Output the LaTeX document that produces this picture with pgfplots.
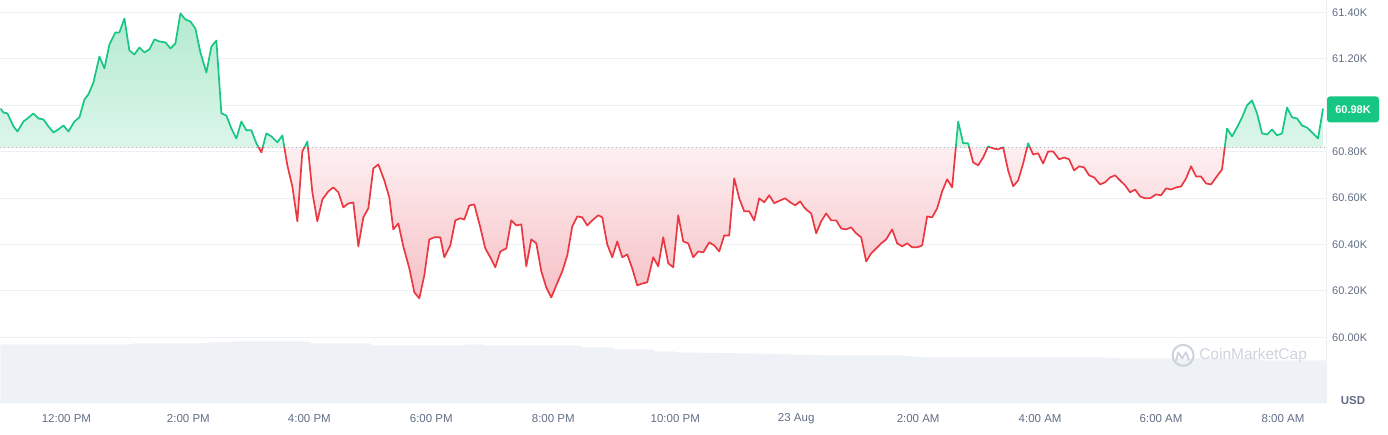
\documentclass[border=0pt]{standalone}
\usepackage{fontspec}
\setmainfont{Liberation Sans}
\usepackage{pgfplots}
\pgfplotsset{compat=1.18}
\usepackage{pgfplotstable}
\definecolor{cmcgreen}{HTML}{16C784}
\definecolor{cmcred}{HTML}{EA3943}
\definecolor{gridc}{HTML}{EEF1F4}
\definecolor{labc}{HTML}{616E85}
\definecolor{volc}{HTML}{EEF1F5}
\definecolor{dotc}{HTML}{A8B0BD}
\definecolor{wmc}{HTML}{CDD3DD}
\definecolor{gtop}{RGB}{180,234,208}
\definecolor{gbot}{RGB}{222,247,235}
\definecolor{rtop}{RGB}{253,237,239}
\definecolor{rbot}{RGB}{245,192,197}
\pgfplotstableread{
x y
0 60.986
3 60.969
7 60.965
13 60.909
17 60.887
23 60.930
27 60.943
33 60.965
38 60.943
43 60.939
48 60.909
53 60.883
58 60.896
63 60.913
68 60.887
74 60.930
79 60.948
84 61.025
88 61.047
93 61.098
99 61.210
104 61.159
109 61.262
115 61.314
119 61.314
124 61.374
129 61.236
134 61.219
139 61.249
144 61.228
149 61.241
154 61.284
159 61.275
165 61.271
170 61.245
175 61.266
180 61.396
185 61.370
190 61.361
195 61.331
200 61.228
206 61.141
211 61.253
216 61.279
221 60.965
226 60.956
231 60.900
236 60.857
241 60.930
246 60.892
251 60.892
256 60.836
261 60.797
266 60.879
271 60.866
277 60.840
282 60.870
287 60.741
292 60.650
297 60.500
302 60.801
307 60.844
312 60.625
317 60.500
322 60.594
328 60.629
333 60.646
338 60.625
343 60.560
348 60.577
353 60.581
358 60.392
363 60.517
368 60.556
373 60.728
378 60.745
384 60.676
389 60.603
393 60.465
398 60.491
403 60.392
409 60.297
414 60.194
419 60.168
424 60.267
429 60.422
434 60.431
440 60.431
444 60.345
450 60.396
455 60.504
460 60.513
464 60.508
469 60.568
474 60.573
480 60.474
485 60.383
490 60.345
495 60.302
500 60.370
506 60.383
511 60.504
516 60.482
521 60.487
526 60.306
531 60.422
536 60.405
541 60.285
546 60.215
551 60.172
556 60.224
562 60.284
567 60.353
572 60.478
577 60.521
582 60.517
587 60.482
592 60.504
598 60.526
602 60.517
607 60.400
612 60.345
617 60.413
622 60.345
627 60.357
632 60.297
637 60.224
642 60.232
647 60.237
653 60.345
658 60.306
663 60.431
668 60.319
673 60.302
678 60.526
683 60.413
688 60.405
693 60.345
698 60.370
703 60.366
709 60.409
714 60.396
719 60.370
724 60.439
729 60.439
734 60.685
739 60.599
744 60.543
749 60.543
754 60.504
759 60.599
764 60.582
769 60.612
774 60.578
780 60.590
785 60.599
790 60.582
795 60.569
800 60.586
804 60.560
807 60.547
811 60.534
816 60.448
821 60.500
826 60.534
831 60.504
836 60.504
841 60.469
846 60.465
851 60.474
856 60.448
861 60.431
866 60.327
871 60.362
876 60.383
881 60.405
886 60.422
892 60.465
897 60.405
902 60.392
907 60.405
912 60.388
917 60.388
922 60.396
927 60.521
932 60.517
937 60.556
942 60.629
947 60.681
952 60.646
958 60.930
963 60.836
968 60.836
973 60.754
978 60.741
983 60.775
988 60.823
993 60.814
998 60.810
1003 60.819
1008 60.719
1013 60.651
1018 60.676
1023 60.749
1028 60.836
1033 60.788
1038 60.793
1043 60.749
1048 60.801
1053 60.801
1059 60.767
1064 60.775
1069 60.767
1074 60.719
1079 60.737
1084 60.732
1089 60.698
1094 60.689
1100 60.659
1105 60.668
1110 60.689
1115 60.698
1120 60.676
1125 60.655
1130 60.625
1135 60.637
1140 60.607
1145 60.599
1150 60.599
1156 60.616
1161 60.612
1166 60.642
1171 60.637
1176 60.646
1181 60.650
1186 60.685
1191 60.737
1196 60.693
1201 60.693
1206 60.663
1211 60.659
1216 60.689
1222 60.724
1227 60.900
1232 60.866
1237 60.905
1242 60.948
1247 61.000
1252 61.021
1257 60.965
1262 60.879
1267 60.874
1272 60.896
1277 60.870
1282 60.879
1287 60.990
1292 60.948
1297 60.943
1302 60.913
1307 60.904
1312 60.883
1318 60.857
1323 60.986
}\price
\pgfplotstableread{
x y
0 59.970
130 59.970
134 59.974
205 59.974
210 59.978
232 59.978
234 59.983
308 59.983
312 59.974
370 59.974
372 59.965
464 59.965
466 59.970
482 59.970
484 59.965
580 59.965
582 59.957
612 59.957
614 59.948
652 59.948
654 59.939
674 59.939
676 59.935
745 59.931
834 59.922
900 59.922
923 59.914
1100 59.914
1124 59.909
1258 59.909
1260 59.901
1326 59.901
}\volume
\begin{document}
\begin{tikzpicture}
\begin{axis}[
  at={(0pt,31pt)}, anchor=south west,
  width=1326pt, height=403pt, scale only axis,
  xmin=0, xmax=1326, ymin=59.7156, ymax=61.4517,
  axis line style={draw=none},
  tick style={draw=none},
  ytick={60,60.2,60.4,60.6,60.8,61.2,61.4},
  yticklabels={60.00K,60.20K,60.40K,60.60K,60.80K,61.20K,61.40K},
  extra y ticks={61},
  extra y tick labels={},
  yticklabel pos=right,
  yticklabel style={anchor=west, inner sep=0pt, xshift=6pt, font=\fontsize{11}{12}\selectfont, text=labc},
  ymajorgrids, grid style={gridc, line width=0.9pt},
  xtick={66,188,309,431,553,675,796,918,1040,1161,1283},
  xticklabels={12:00 PM,2:00 PM,4:00 PM,6:00 PM,8:00 PM,10:00 PM,23 Aug,2:00 AM,4:00 AM,6:00 AM,8:00 AM},
  xticklabel style={anchor=center, inner sep=0pt, yshift=-15pt, font=\fontsize{11.5}{12}\selectfont, text=labc},
]
\addplot[draw=none, fill=volc] table {\volume} \closedcycle;
\begin{scope}
\clip (axis cs:-10,60.817) rectangle (axis cs:1336,61.6);
\addplot[draw=none, top color=gtop, bottom color=gbot, middle color=gbot] table {\price} -- (axis cs:1323,60.817) -- (axis cs:0,60.817) -- cycle;
\end{scope}
\begin{scope}
\clip (axis cs:-10,59.70) rectangle (axis cs:1336,60.817);
\addplot[draw=none, top color=rtop, bottom color=rbot, middle color=rtop] table {\price} -- (axis cs:1323,60.817) -- (axis cs:0,60.817) -- cycle;
\end{scope}
\draw[dotc, line width=0.7pt, dash pattern=on 0.7pt off 3.3pt] (axis cs:0,60.817) -- (axis cs:1326,60.817);
\begin{scope}
\clip (axis cs:-10,60.817) rectangle (axis cs:1336,61.6);
\addplot[cmcgreen, line width=1.7pt, line join=round] table {\price};
\end{scope}
\begin{scope}
\clip (axis cs:-10,59.70) rectangle (axis cs:1336,60.817);
\addplot[cmcred, line width=1.7pt, line join=round] table {\price};
\end{scope}
\end{axis}
\draw[gridc, line width=0.9pt] (1326pt,31pt) -- (1326pt,434pt);
\node[fill=cmcgreen, rounded corners=3pt, text=white, font=\bfseries\fontsize{11}{12}\selectfont, minimum width=52pt, minimum height=26pt, inner sep=0pt] at (1353pt,325pt) {60.98K};
\node[text=labc, font=\bfseries\fontsize{11.5}{12}\selectfont] at (1353pt,34pt) {USD};
\draw[wmc, line width=2pt] (1183pt,79pt) circle (10.5pt);
\draw[wmc, line width=1.8pt, line join=round] (1176pt,73pt) -- (1178pt,82pt) -- (1182pt,76pt) -- (1186pt,82pt) -- (1189pt,74pt);
\node[anchor=west, text=wmc, inner sep=0pt, font=\fontsize{15.5}{16}\selectfont] at (1199pt,79pt) {CoinMarketCap};
\path (0,0) rectangle (1388pt,434pt);
\end{tikzpicture}
\end{document}
